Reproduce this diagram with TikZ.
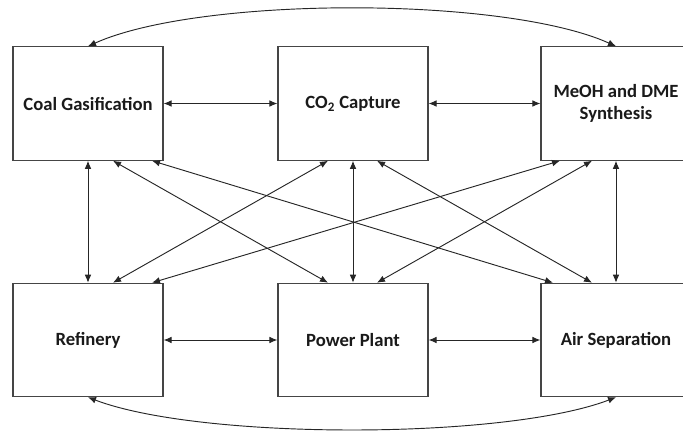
\documentclass[tikz,border=0pt]{standalone}
\usepackage{fontspec}
\setmainfont{Carlito}
\usepackage{tikz}
\usetikzlibrary{arrows.meta,calc}

\definecolor{boxline}{HTML}{454545}
\definecolor{txt}{HTML}{1A1A1A}

\tikzset{
  unit/.style={draw=boxline, line width=0.9pt, fill=white, minimum width=112.5pt, minimum height=85pt, inner sep=0pt, align=center, text=txt, font=\fontsize{14}{16}\selectfont\bfseries},
  link/.style={draw=black!85, line width=0.7pt, {Latex[length=6pt,width=5pt]}-{Latex[length=6pt,width=5pt]}}
}

\begin{document}
\begin{tikzpicture}[x=0.75pt,y=0.75pt,yscale=-1,xscale=1]
    \useasboundingbox (0,0) rectangle (683,430);

    %Boxes
    \node [unit] (cg) at (88,103.5) {Coal Gasification};
    \node [unit] (co2) at (353,103.5) {CO\textsubscript{2} Capture};
    \node [unit] (meoh) at (616,103.5) {MeOH and DME\\Synthesis};
    \node [unit] (ref) at (88,340) {Refinery};
    \node [unit] (pp) at (353,340) {Power Plant};
    \node [unit] (air) at (616,340) {Air Separation};

    %Rows and columns
    \draw [link] (cg) -- (co2);
    \draw [link] (co2) -- (meoh);
    \draw [link] (ref) -- (pp);
    \draw [link] (pp) -- (air);
    \draw [link] (cg) -- (ref);
    \draw [link] (co2) -- (pp);
    \draw [link] (meoh) -- (air);

    %Diagonals
    \draw [link] ($(cg.south)+(25,0)$) -- ($(pp.north)+(-25,0)$);
    \draw [link] ($(cg.south)+(64,0)$) -- ($(air.north)+(-63,0)$);
    \draw [link] ($(ref.north)+(25,0)$) -- ($(co2.south)+(-25,0)$);
    \draw [link] ($(ref.north)+(64,0)$) -- ($(meoh.south)+(-56,0)$);
    \draw [link] ($(co2.south)+(24,0)$) -- ($(air.north)+(-24,0)$);
    \draw [link] ($(pp.north)+(24,0)$) -- ($(meoh.south)+(-24,0)$);

    %Outer curves
    \draw [link] (cg.north) .. controls (200,-4) and (504,-4) .. (meoh.north);
    \draw [link] (ref.south) .. controls (200,440) and (504,440) .. (air.south);
\end{tikzpicture}
\end{document}
